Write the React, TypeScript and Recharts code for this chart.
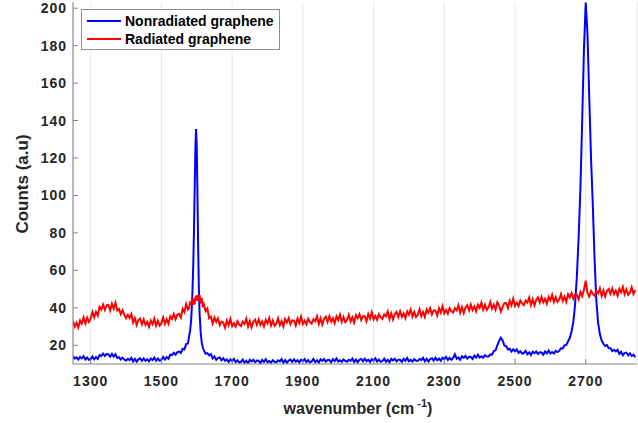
import React from 'react';
import { LineChart, Line, XAxis, YAxis, CartesianGrid, Label } from 'recharts';

// wavenumber (cm^-1)
const wavenumber = [
  1250, 1255, 1260, 1265, 1270, 1275, 1280, 1285, 1290, 1295,
  1300, 1305, 1310, 1315, 1320, 1325, 1330, 1335, 1340, 1345,
  1350, 1355, 1360, 1365, 1370, 1375, 1380, 1385, 1390, 1395,
  1400, 1405, 1410, 1415, 1420, 1425, 1430, 1435, 1440, 1445,
  1450, 1455, 1460, 1465, 1470, 1475, 1480, 1485, 1490, 1495,
  1500, 1505, 1510, 1515, 1520, 1525, 1530, 1535, 1540, 1545,
  1550, 1555, 1560, 1565, 1570, 1575,
  1578, 1581, 1584, 1587, 1590, 1592, 1594, 1596, 1598, 1600,
  1602, 1604, 1606, 1608, 1611, 1614, 1617, 1620,
  1625, 1630, 1635, 1640, 1645, 1650, 1655, 1660, 1665, 1670,
  1675, 1680, 1685, 1690, 1695, 1700, 1705, 1710, 1715, 1720,
  1725, 1730, 1735, 1740, 1745, 1750, 1755, 1760, 1765, 1770,
  1775, 1780, 1785, 1790, 1795, 1800, 1805, 1810, 1815, 1820,
  1825, 1830, 1835, 1840, 1845, 1850, 1855, 1860, 1865, 1870,
  1875, 1880, 1885, 1890, 1895, 1900, 1905, 1910, 1915, 1920,
  1925, 1930, 1935, 1940, 1945, 1950, 1955, 1960, 1965, 1970,
  1975, 1980, 1985, 1990, 1995, 2000, 2005, 2010, 2015, 2020,
  2025, 2030, 2035, 2040, 2045, 2050, 2055, 2060, 2065, 2070,
  2075, 2080, 2085, 2090, 2095, 2100, 2105, 2110, 2115, 2120,
  2125, 2130, 2135, 2140, 2145, 2150, 2155, 2160, 2165, 2170,
  2175, 2180, 2185, 2190, 2195, 2200, 2205, 2210, 2215, 2220,
  2225, 2230, 2235, 2240, 2245, 2250, 2255, 2260, 2265, 2270,
  2275, 2280, 2285, 2290, 2295, 2300, 2305, 2310, 2315, 2320,
  2325, 2330, 2335, 2340, 2345, 2350, 2355, 2360, 2365, 2370,
  2375, 2380, 2385, 2390, 2395, 2400, 2405, 2410, 2415, 2420,
  2425, 2430, 2435, 2440, 2445, 2450, 2455, 2460, 2465, 2470,
  2475, 2480, 2485, 2490, 2495, 2500, 2505, 2510, 2515, 2520,
  2525, 2530, 2535, 2540, 2545, 2550, 2555, 2560, 2565, 2570,
  2575, 2580, 2585, 2590, 2595, 2600, 2605, 2610, 2615, 2620,
  2625, 2630, 2635, 2640, 2645, 2650, 2655, 2660, 2665, 2670,
  2675, 2680, 2685, 2690, 2695, 2700, 2705, 2710, 2715, 2720,
  2725, 2730, 2735, 2740, 2745, 2750, 2755, 2760, 2765, 2770,
  2775, 2780, 2785, 2790, 2795, 2800, 2805, 2810, 2815, 2820,
  2825, 2830, 2835, 2840,
];

// Nonradiated graphene counts
const nonradiated = [
  14.2, 12.9, 13.6, 12.4, 13.8, 13.0, 14.1, 12.4, 13.4, 12.2,
  12.6, 14.0, 12.5, 13.7, 12.7, 14.8, 14.3, 15.5, 14.3, 15.3,
  15.2, 13.9, 15.4, 14.0, 15.2, 13.2, 13.6, 12.4, 13.4, 12.4,
  11.8, 12.8, 12.1, 13.3, 11.3, 12.7, 11.2, 12.5, 13.0, 11.7,
  13.0, 11.7, 12.5, 11.4, 12.9, 12.1, 13.4, 11.7, 12.9, 11.8,
  12.3, 13.8, 12.4, 13.7, 12.8, 15.0, 14.7, 16.0, 15.0, 16.3,
  16.6, 15.9, 18.1, 17.8, 20.6, 20.9,
  24.5, 27.5, 33, 44, 62, 80, 102, 124, 135.5, 126,
  100, 72, 50, 37, 27, 21.5, 18.8, 17.4,
  15.5, 15.8, 14.6, 15.3, 13.0, 14.0, 12.2, 13.2, 13.5, 12.0,
  13.1, 11.7, 12.4, 11.1, 12.5, 11.6, 12.7, 11.0, 12.0, 10.8,
  11.1, 12.4, 10.7, 11.7, 10.4, 12.2, 11.4, 12.3, 10.9, 11.8,
  11.7, 10.5, 12.2, 11.1, 12.6, 10.9, 11.6, 10.7, 12.0, 11.2,
  10.9, 12.0, 11.4, 12.6, 10.7, 12.1, 10.6, 11.9, 12.4, 11.1,
  12.5, 11.2, 12.0, 10.8, 12.3, 11.5, 12.7, 11.0, 12.1, 10.9,
  11.4, 12.7, 11.0, 12.0, 10.7, 12.5, 11.7, 12.6, 11.2, 12.1,
  12.1, 10.9, 12.6, 11.5, 13.0, 11.3, 12.0, 11.1, 12.4, 11.6,
  11.2, 12.3, 11.7, 12.9, 11.0, 12.4, 10.9, 12.2, 12.7, 11.4,
  12.8, 11.5, 12.3, 11.1, 12.6, 11.8, 13.0, 11.3, 12.4, 11.2,
  11.6, 12.9, 11.2, 12.2, 10.9, 12.7, 11.9, 12.8, 11.4, 12.3,
  12.3, 11.1, 12.8, 11.7, 13.2, 11.5, 12.2, 11.3, 12.6, 11.8,
  11.6, 12.7, 12.1, 13.3, 11.4, 12.8, 11.3, 12.6, 13.1, 11.8,
  13.3, 12.0, 12.9, 11.7, 13.3, 12.5, 13.8, 12.1, 13.3, 12.2,
  13.2, 15.2, 12.8, 13.5, 12.2, 14.1, 13.3, 14.3, 12.9, 13.9,
  13.8, 12.7, 14.5, 13.4, 15.0, 13.4, 14.1, 13.3, 14.7, 14.0,
  14.0, 15.1, 15.0, 16.9, 17.3, 19.9, 22.3, 24.0, 22.6, 19.8,
  19.6, 17.7, 18.1, 16.6, 17.8, 16.8, 17.8, 15.9, 16.8, 15.5,
  15.8, 17.0, 15.2, 16.2, 14.8, 16.6, 15.8, 16.7, 15.3, 16.2,
  16.1, 15.0, 16.7, 15.7, 17.2, 15.6, 16.4, 15.6, 17.0, 16.4,
  17.0, 18.4, 18.3, 19.9, 20.2, 22.0, 24.0, 27.5, 32.5, 42,
  57, 78, 104, 140, 178, 203, 186, 152, 120, 95,
  66, 44, 32, 26, 22.5, 20.8, 19.6, 20.1, 18.5, 18.4,
  16.9, 17.6, 16.7, 17.6, 15.4, 16.5, 14.7, 15.8, 16.1, 14.6,
  15.7, 14.3, 15.0, 13.7,
];

// Radiated graphene counts
const radiated = [
  32.8, 30.0, 32.0, 29.5, 33.2, 31.5, 34.9, 31.6, 34.7, 32.5,
  34.2, 37.8, 34.9, 37.8, 35.8, 40.5, 39.1, 41.7, 38.9, 41.3,
  41.5, 38.6, 42.2, 39.5, 42.7, 38.6, 39.4, 36.6, 38.7, 36.2,
  34.5, 36.3, 34.6, 36.7, 32.1, 34.5, 30.9, 33.5, 34.3, 31.2,
  33.8, 30.8, 32.5, 29.8, 33.2, 31.3, 34.2, 30.4, 33.1, 30.5,
  31.8, 34.9, 31.5, 33.9, 31.4, 35.5, 34.1, 36.7, 33.9, 36.4,
  36.7, 34.8, 39.4, 37.7, 42.0, 39.1,
  39.7, 42.7, 42.1, 45.3, 41.6, 44.9, 41.9, 45.1, 46.5, 43.9,
  46.8, 43.7, 45.3, 46.9, 42.4, 45.3, 40.4, 41.9,
  38.2, 39.6, 34.5, 35.2, 31.6, 34.8, 32.5, 34.3, 30.8, 32.6,
  32.2, 29.4, 33.2, 30.7, 34.1, 30.2, 31.8, 29.9, 32.8, 31.1,
  30.3, 32.6, 31.4, 34.1, 30.0, 32.9, 29.6, 32.6, 33.7, 30.9,
  33.8, 30.9, 32.7, 30.0, 33.6, 31.7, 34.5, 30.6, 33.2, 30.4,
  31.5, 34.4, 30.7, 32.8, 30.1, 34.0, 32.2, 34.5, 31.3, 33.3,
  33.2, 30.5, 34.3, 31.9, 35.3, 31.4, 33.1, 31.2, 34.1, 32.4,
  31.6, 33.9, 32.8, 35.5, 31.4, 34.4, 31.1, 34.1, 35.2, 32.4,
  35.5, 32.6, 34.4, 31.8, 35.4, 33.5, 36.4, 32.5, 35.1, 32.3,
  33.5, 36.3, 32.7, 34.9, 32.1, 36.1, 34.4, 36.6, 33.5, 35.5,
  35.5, 32.8, 36.7, 34.3, 37.7, 33.9, 35.6, 33.6, 36.6, 34.9,
  34.1, 36.5, 35.4, 38.0, 34.0, 37.0, 33.7, 36.7, 37.9, 35.1,
  38.1, 35.2, 37.1, 34.5, 38.1, 36.3, 39.1, 35.3, 37.8, 35.1,
  36.3, 39.2, 35.6, 37.8, 35.1, 39.1, 37.4, 39.7, 36.5, 38.6,
  38.5, 35.9, 39.8, 37.4, 40.9, 37.1, 38.8, 36.9, 39.8, 38.2,
  37.4, 39.8, 38.7, 41.4, 37.4, 40.4, 37.2, 40.2, 41.4, 38.7,
  41.7, 38.8, 40.7, 38.1, 41.7, 39.9, 42.8, 39.0, 41.6, 38.9,
  40.2, 43.1, 39.5, 41.7, 39.0, 43.0, 41.3, 38.0, 40.5, 42.6,
  42.5, 39.9, 43.8, 41.4, 44.9, 41.1, 42.8, 40.9, 43.9, 42.3,
  41.5, 43.9, 42.8, 45.5, 41.5, 44.5, 41.3, 44.3, 45.5, 42.8,
  45.8, 42.9, 44.8, 42.2, 45.8, 44.0, 46.9, 43.1, 45.7, 43.1,
  44.4, 47.3, 43.7, 45.9, 43.2, 47.3, 45.6, 47.9, 44.8, 47.0,
  47.0, 44.5, 48.5, 46.2, 49.8, 54.5, 47.9, 46.0, 49.0, 47.4,
  46.5, 48.9, 47.7, 50.4, 46.3, 49.3, 46.0, 49.0, 50.1, 47.4,
  50.3, 47.3, 49.2, 46.5, 50.1, 48.2, 51.1, 47.2, 49.8, 47.0,
  48.2, 51.0, 47.4, 49.5,
];

const xTicks = [1300, 1500, 1700, 1900, 2100, 2300, 2500, 2700];
const yTicks = [20, 40, 60, 80, 100, 120, 140, 160, 180, 200];
const seriesNames = ['Nonradiated graphene', 'Radiated graphene'];
const seriesColors = ['#0000ff', '#ff0000'];

const data = wavenumber.map((w, i) => ({ w, non: nonradiated[i], rad: radiated[i] }));

const TEXT = '#262626';
const AXIS = '#808080';
const FONT = '"Liberation Sans", Arial, Helvetica, sans-serif';

const tickStyle = { fill: TEXT, fontSize: 14, fontWeight: 'bold', fontFamily: FONT, letterSpacing: 1 };

function LegendBox() {
  return (
    <svg width={199} height={41} style={{ display: 'block' }}>
      <rect x={0.5} y={0.5} width={198} height={40} fill="#ffffff" stroke="#8c8c8c" strokeWidth={1} />
      {seriesNames.map((name, i) => (
        <g key={name}>
          <line x1={6} x2={40} y1={12 + i * 18} y2={12 + i * 18} stroke={seriesColors[i]} strokeWidth={2} />
          <text x={44} y={17 + i * 18} fontFamily={FONT} fontSize={14} fontWeight="bold" fill="#000">
            {name}
          </text>
        </g>
      ))}
    </svg>
  );
}

export default function App() {
  return (
    <div style={{ position: 'absolute', left: 0, top: 0, width: 638, height: 423, background: '#fff' }}>
      <LineChart width={638} height={423} data={data} margin={{ top: 2, right: 1, bottom: 0, left: 0 }}>
        <CartesianGrid horizontal={false} stroke="#e6e6e6" strokeWidth={1} />
        <XAxis
          dataKey="w"
          type="number"
          domain={[1250, 2845]}
          ticks={xTicks}
          allowDataOverflow
          height={59}
          axisLine={{ stroke: AXIS, strokeWidth: 1 }}
          tickLine={{ stroke: AXIS }}
          tickSize={-5}
          tickMargin={17}
          tick={tickStyle}
        >
          <Label
            content={() => (
              <text x={358} y={414} textAnchor="middle" fontFamily={FONT} fontSize={16} fontWeight="bold" fill={TEXT}>
                <tspan>wavenumber (cm</tspan>
                <tspan dx={3} dy={-7} fontSize={11}>-1</tspan>
                <tspan dy={7}>)</tspan>
              </text>
            )}
          />
        </XAxis>
        <XAxis
          xAxisId="top"
          dataKey="w"
          type="number"
          orientation="top"
          domain={[1250, 2845]}
          ticks={xTicks}
          allowDataOverflow
          height={0}
          axisLine={{ stroke: AXIS, strokeWidth: 1 }}
          tickLine={{ stroke: AXIS }}
          tickSize={-5}
          tick={() => <g />}
        />
        <YAxis
          type="number"
          domain={[10, 203.3]}
          ticks={yTicks}
          allowDataOverflow
          width={73}
          axisLine={{ stroke: AXIS, strokeWidth: 1 }}
          tickLine={{ stroke: AXIS }}
          tickSize={-5}
          tickMargin={11}
          tick={tickStyle}
        >
          <Label
            content={() => (
              <text
                x={28}
                y={184}
                transform="rotate(-90, 28, 184)"
                textAnchor="middle"
                fontFamily={FONT}
                fontSize={17}
                fontWeight="bold"
                fill={TEXT}
              >
                Counts (a.u)
              </text>
            )}
          />
        </YAxis>
        <Line
          type="linear"
          dataKey="non"
          name={seriesNames[0]}
          stroke={seriesColors[0]}
          strokeWidth={2}
          dot={false}
          isAnimationActive={false}
        />
        <Line
          type="linear"
          dataKey="rad"
          name={seriesNames[1]}
          stroke={seriesColors[1]}
          strokeWidth={2}
          dot={false}
          isAnimationActive={false}
        />
      </LineChart>
      <div style={{ position: 'absolute', left: 81, top: 9 }}>
        <LegendBox />
      </div>
    </div>
  );
}
